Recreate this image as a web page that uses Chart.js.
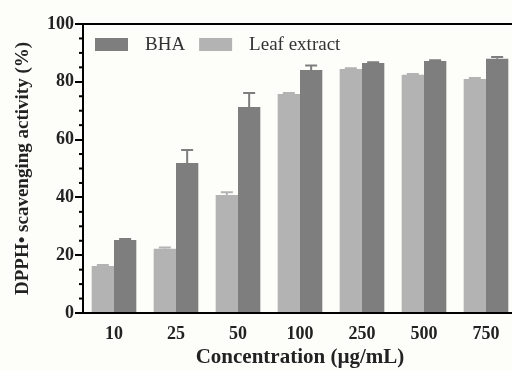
<!DOCTYPE html>
<html>
<head>
<meta charset="utf-8">
<script src="https://cdn.jsdelivr.net/npm/chart.js@4/dist/chart.umd.min.js"></script>
<style>
  html, body { margin: 0; padding: 0; background: #fdfdfa; overflow: hidden; }
  #wrap { width: 530px; height: 370px; }
</style>
</head>
<body>
<div id="wrap"><canvas id="grafik"></canvas></div>
<script>
// data
const konsentrasi = ["10", "25", "50", "100", "250", "500", "750"];
const daunNilai = [16.3, 22.2, 40.8, 75.8, 84.4, 82.4, 81.0];
const daunError = [0.3, 0.5, 1.0, 0.3, 0.3, 0.3, 0.3];
const bhaNilai = [25.3, 51.9, 71.3, 84.1, 86.5, 87.2, 88.0];
const bhaError = [0.3, 4.5, 4.8, 1.5, 0.3, 0.3, 0.6];
const yTicks = [0, 20, 40, 60, 80, 100];

const warnaDaun = "#b3b3b3";
const warnaBHA = "#7e7e7e";
const fontSerif = "'Liberation Serif', 'DejaVu Serif', serif";

// error bars on top of each bar
const errorBarPlugin = {
  id: "errorBars",
  afterDatasetsDraw(chart) {
    const ctx = chart.ctx;
    const y = chart.scales.y;
    ctx.save();
    chart.data.datasets.forEach((ds, i) => {
      const meta = chart.getDatasetMeta(i);
      meta.data.forEach((bar, j) => {
        const err = ds.errors[j];
        const top = y.getPixelForValue(ds.data[j] + err);
        ctx.strokeStyle = ds.backgroundColor;
        ctx.lineWidth = 2;
        ctx.beginPath();
        ctx.moveTo(bar.x, bar.y);
        ctx.lineTo(bar.x, top);
        ctx.moveTo(bar.x - 6, top);
        ctx.lineTo(bar.x + 6, top);
        ctx.stroke();
      });
    });
    ctx.restore();
  }
};

// minor ticks on the y axis (every 5)
const minorTickPlugin = {
  id: "minorTicks",
  afterDraw(chart) {
    const ctx = chart.ctx;
    const y = chart.scales.y;
    const x0 = chart.chartArea.left;
    ctx.save();
    ctx.strokeStyle = "#000";
    ctx.lineWidth = 2;
    for (let v = 5; v < 100; v += 5) {
      if (v % 20 === 0) continue;
      const py = y.getPixelForValue(v);
      ctx.beginPath();
      ctx.moveTo(x0 - 4, py);
      ctx.lineTo(x0, py);
      ctx.stroke();
    }
    ctx.restore();
  }
};

// legend inside plot, BHA first
const legendPlugin = {
  id: "legendDalam",
  afterDraw(chart) {
    const ctx = chart.ctx;
    const items = [...chart.data.datasets].reverse();
    let x = chart.chartArea.left + 12;
    const yTop = chart.chartArea.top + 14;
    ctx.save();
    ctx.font = "19px " + fontSerif;
    ctx.textBaseline = "middle";
    items.forEach(ds => {
      ctx.fillStyle = ds.backgroundColor;
      ctx.fillRect(x, yTop, 33, 13);
      ctx.fillStyle = "#333";
      ctx.fillText(ds.label, x + 50, yTop + 7);
      x += 50 + ctx.measureText(ds.label).width + 14;
    });
    ctx.restore();
  }
};

new Chart(document.getElementById("grafik"), {
  type: "bar",
  data: {
    labels: konsentrasi,
    datasets: [
      { label: "Leaf extract", data: daunNilai, errors: daunError, backgroundColor: warnaDaun },
      { label: "BHA", data: bhaNilai, errors: bhaError, backgroundColor: warnaBHA }
    ]
  },
  options: {
    responsive: true,
    maintainAspectRatio: false,
    animation: false,
    categoryPercentage: 0.72,
    barPercentage: 1.0,
    layout: { padding: { left: 8, top: 24, right: 13, bottom: 0 } },
    plugins: { legend: { display: false }, tooltip: { enabled: false } },
    scales: {
      x: {
        grid: { display: false, drawTicks: false },
        border: { display: true, color: "#000", width: 2 },
        ticks: { color: "#222", padding: 11, font: { family: fontSerif, size: 18, weight: "bold" } },
        title: {
          display: true, text: "Concentration (\u00b5g/mL)", color: "#222",
          font: { family: fontSerif, size: 21, weight: "bold" }, padding: { top: 0, bottom: 0 }
        },
        afterFit(scale) { scale.height = 57; }
      },
      y: {
        min: 0, max: 100,
        afterBuildTicks(scale) { scale.ticks = yTicks.map(v => ({ value: v })); },
        grid: {
          drawOnChartArea: true,
          color: ctx => (ctx.tick && ctx.tick.value === 100 ? "#000" : "rgba(0,0,0,0)"),
          lineWidth: 2,
          tickLength: 8,
          tickColor: "#000"
        },
        border: { display: true, color: "#000", width: 2 },
        ticks: { color: "#222", padding: 1, font: { family: fontSerif, size: 18, weight: "bold" } },
        title: {
          display: true, text: "DPPH\u2022 scavenging activity (%)", color: "#222",
          font: { family: fontSerif, size: 19, weight: "bold" }, padding: { bottom: 2 }
        },
        afterFit(scale) { scale.width = 75; }
      }
    }
  },
  plugins: [errorBarPlugin, minorTickPlugin, legendPlugin]
});
</script>
</body>
</html>
